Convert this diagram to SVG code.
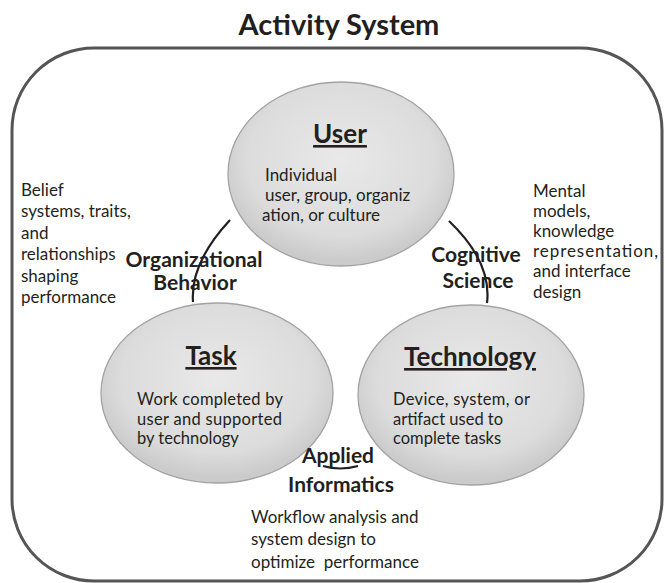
<svg xmlns="http://www.w3.org/2000/svg" width="665" height="583" viewBox="0 0 665 583">
<defs>
<radialGradient id="g" cx="50%" cy="42%" r="55%">
<stop offset="0" stop-color="#e9e9e9"/>
<stop offset="0.75" stop-color="#dcdcdc"/>
<stop offset="1" stop-color="#cbcbcb"/>
</radialGradient>
</defs>
<style>
.t{font-family:Lato,"Open Sans","Liberation Sans",sans-serif;fill:#231f20}
.body{font-size:17px}
.nb{font-size:16.5px}
.lab{font-size:21px;font-weight:bold;text-anchor:middle}
.ttl{font-size:26px;font-weight:bold;text-anchor:middle;text-decoration:underline}
.node ellipse{fill:url(#g);stroke:#a3a3a3;stroke-width:1.3}
.conn path{fill:none;stroke:#231f20;stroke-width:2.2}
</style>
<rect x="12" y="48" width="650" height="533" rx="82" ry="82" fill="#fff" stroke="#555" stroke-width="3"/>
<text class="t" x="339" y="35" font-size="29" font-weight="bold" text-anchor="middle">Activity System</text>
<g id="user" class="node">
<ellipse cx="341" cy="174" rx="113" ry="92"/>
<text class="t ttl" x="340" y="143">User</text>
<text class="t body"><tspan x="265" y="181">Individual</tspan><tspan x="265" y="201">user, group, organiz</tspan><tspan x="262" y="221">ation, or culture</tspan></text>
</g>
<g id="task" class="node">
<ellipse cx="217" cy="393" rx="116" ry="90"/>
<text class="t ttl" x="211" y="365">Task</text>
<text class="t nb"><tspan x="137" y="405" textLength="146">Work completed by</tspan><tspan x="137" y="424.5" textLength="145">user and supported</tspan><tspan x="137" y="444">by technology</tspan></text>
</g>
<g id="technology" class="node">
<ellipse cx="471" cy="395" rx="113" ry="90"/>
<text class="t ttl" x="470" y="366">Technology</text>
<text class="t nb"><tspan x="393" y="405" textLength="137">Device, system, or</tspan><tspan x="393" y="424.5">artifact used to</tspan><tspan x="393" y="444">complete tasks</tspan></text>
</g>
<g id="connectors" class="conn">
<path d="M230,220 Q190,263 193,302"/>
<path d="M449,221 Q492,262 487,303"/>
<path d="M323,466 Q340,471 358,466"/>
</g>
<g id="org-behavior">
<text class="t lab" x="194" y="267">Organizational</text>
<text class="t lab" x="195" y="290">Behavior</text>
<text class="t body"><tspan x="21" y="196">Belief</tspan><tspan x="21" y="217">systems, traits,</tspan><tspan x="21" y="239">and</tspan><tspan x="21" y="260">relationships</tspan><tspan x="21" y="282">shaping</tspan><tspan x="21" y="303">performance</tspan></text>
</g>
<g id="cognitive-science">
<text class="t lab" x="476" y="262">Cognitive</text>
<text class="t lab" x="478" y="288">Science</text>
<text class="t body"><tspan x="533" y="197">Mental</tspan><tspan x="533" y="217">models,</tspan><tspan x="533" y="237">knowledge</tspan><tspan x="533" y="257" textLength="125">representation,</tspan><tspan x="533" y="277">and interface</tspan><tspan x="533" y="298">design</tspan></text>
</g>
<g id="applied-informatics">
<text class="t lab" x="338" y="463">Applied</text>
<text class="t lab" x="341" y="492">Informatics</text>
<text class="t body" style="white-space:pre"><tspan x="251" y="523">Workflow analysis and</tspan><tspan x="251" y="545">system design to</tspan><tspan x="251" y="568">optimize  performance</tspan></text>
</g>
</svg>
